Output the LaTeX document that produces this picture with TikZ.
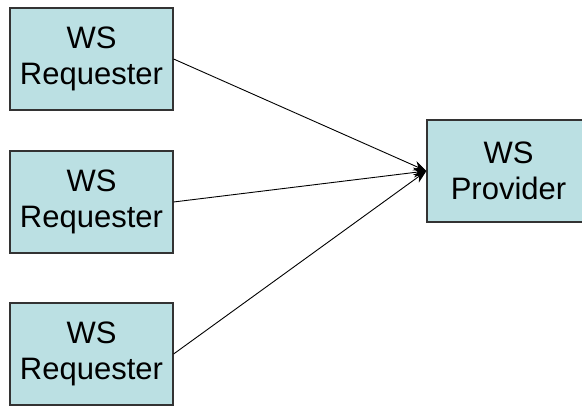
\documentclass[tikz,border=0pt]{standalone}
\usepackage{fontspec}
\setmainfont{Liberation Sans}
\usetikzlibrary{arrows.meta}
\definecolor{boxfill}{RGB}{187,224,227}
\definecolor{boxline}{RGB}{51,51,51}
\begin{document}
\begin{tikzpicture}[x=1pt,y=1pt,
  wsbox/.style={draw=boxline,line width=1.2pt,fill=boxfill,minimum width=163pt,minimum height=102pt,inner sep=0pt,align=center,font=\fontsize{31}{36}\selectfont},
  conn/.style={line width=0.9pt,-{Stealth[length=13pt,width=10pt]}}]
\useasboundingbox (0,0) rectangle (582,406);
\node[wsbox] (r1) at (91.5,347) {WS\\Requester};
\node[wsbox] (r2) at (91.5,204) {WS\\Requester};
\node[wsbox] (r3) at (91.5,52) {WS\\Requester};
\node[wsbox] (p) at (508.5,235) {WS\\Provider};
\draw[conn] (r1.east) -- (p.west);
\draw[conn] (r2.east) -- (p.west);
\draw[conn] (r3.east) -- (p.west);
\end{tikzpicture}
\end{document}
